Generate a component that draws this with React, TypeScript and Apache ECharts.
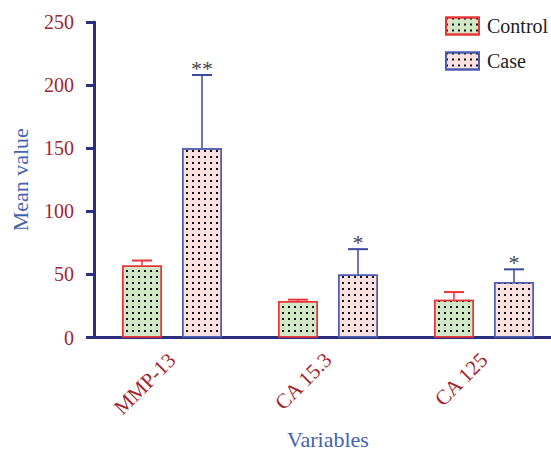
import React, { useEffect, useRef } from "react";
import * as echarts from "echarts";

const categories = ["MMP-13", "CA 15.3", "CA 125"];
const controlMean = [57, 29, 30];
const controlErr = [4, 1, 6];
const caseMean = [150, 50, 44];
const caseErr = [58, 20, 10];
const significance = ["**", "*", "*"];
const yTicks = { min: 0, max: 250, interval: 50 };

const SERIF = '"Liberation Serif", "Times New Roman", serif';
const AXIS_COLOR = "#2b2f7e";
const LABEL_RED = "#a2252b";
const NAME_BLUE = "#4562ae";
const CTRL_BORDER = "#e8363b";
const CTRL_FILL = "#d2e7c6";
const CASE_BORDER = "#4d5db2";
const CASE_FILL = "#fde0e0";
const CASE_ERR = "#3a4a9e";

const dotDecal = {
  symbol: "rect",
  symbolSize: 1,
  color: "#111",
  dashArrayX: [2, 4],
  dashArrayY: [2, 4],
  rotation: 0,
};

function errorSeries(name: string, means: number[], errs: number[], offset: number, color: string, stars: string[] | null) {
  return {
    type: "custom",
    name: name + " err",
    z: 5,
    silent: true,
    data: means.map((m, i) => [i, m, m + errs[i]]),
    renderItem: (params: any, api: any) => {
      const i = api.value(0);
      const base = api.coord([i, api.value(1)]);
      const top = api.coord([i, api.value(2)]);
      const x = base[0] + offset;
      const children: any[] = [
        { type: "line", shape: { x1: x, y1: base[1], x2: x, y2: top[1] }, style: { stroke: color, lineWidth: 1.5 } },
        { type: "line", shape: { x1: x - 10, y1: top[1], x2: x + 10, y2: top[1] }, style: { stroke: color, lineWidth: 2 } },
      ];
      if (stars && stars[params.dataIndex]) {
        children.push({
          type: "text",
          x: x,
          y: top[1] + 4,
          style: {
            text: stars[params.dataIndex],
            fill: "#444",
            fontSize: 22,
            fontFamily: SERIF,
            align: "center",
            verticalAlign: "bottom",
          },
        });
      }
      return { type: "group", children };
    },
  };
}

export default function App() {
  const ref = useRef<HTMLDivElement>(null);
  useEffect(() => {
    if (!ref.current) return;
    const chart = echarts.init(ref.current, undefined, { renderer: "svg" });
    chart.setOption({
      animation: false,
      backgroundColor: "#fff",
      legend: {
        orient: "vertical",
        left: 445,
        top: 16,
        itemWidth: 33,
        itemHeight: 17,
        itemGap: 15,
        icon: "rect",
        padding: 0,
        data: ["Control", "Case"],
        textStyle: { fontSize: 20, color: "#222", fontFamily: SERIF, padding: [0, 0, 0, 3] },
      },
      grid: { left: 94, top: 22, width: 468, height: 315.5, outerBoundsMode: "none", containLabel: false },
      xAxis: {
        type: "category",
        data: categories,
        name: "Variables",
        nameLocation: "middle",
        nameGap: 91,
        nameTextStyle: { fontSize: 22, color: NAME_BLUE, fontFamily: SERIF },
        axisLine: { lineStyle: { color: AXIS_COLOR, width: 3 } },
        axisTick: { alignWithLabel: true, length: 9, lineStyle: { color: AXIS_COLOR, width: 3 } },
        axisLabel: { rotate: 45, margin: 19, fontSize: 21, color: LABEL_RED, fontFamily: SERIF },
      },
      yAxis: {
        type: "value",
        min: yTicks.min,
        max: yTicks.max,
        interval: yTicks.interval,
        name: "Mean value",
        nameLocation: "middle",
        nameGap: 63,
        nameTextStyle: { fontSize: 22, color: NAME_BLUE, fontFamily: SERIF },
        axisLine: { show: true, lineStyle: { color: AXIS_COLOR, width: 3 } },
        axisTick: { show: true, length: 8, lineStyle: { color: AXIS_COLOR, width: 3 } },
        axisLabel: { margin: 20, fontSize: 20, color: LABEL_RED, fontFamily: SERIF },
        splitLine: { show: false },
      },
      series: [
        {
          type: "bar",
          name: "Control",
          data: controlMean,
          barWidth: 40,
          barGap: "50%",
          itemStyle: { color: CTRL_FILL, borderColor: CTRL_BORDER, borderWidth: 1.5, decal: dotDecal },
        },
        {
          type: "bar",
          name: "Case",
          data: caseMean,
          barWidth: 40,
          barGap: "50%",
          itemStyle: { color: CASE_FILL, borderColor: CASE_BORDER, borderWidth: 1.5, decal: dotDecal },
        },
        errorSeries("Control", controlMean, controlErr, -30, CTRL_BORDER, null),
        errorSeries("Case", caseMean, caseErr, 30, CASE_ERR, significance),
      ],
    });
    return () => chart.dispose();
  }, []);
  return <div ref={ref} style={{ position: "fixed", left: 0, top: 0, width: 551, height: 453 }} />;
}
